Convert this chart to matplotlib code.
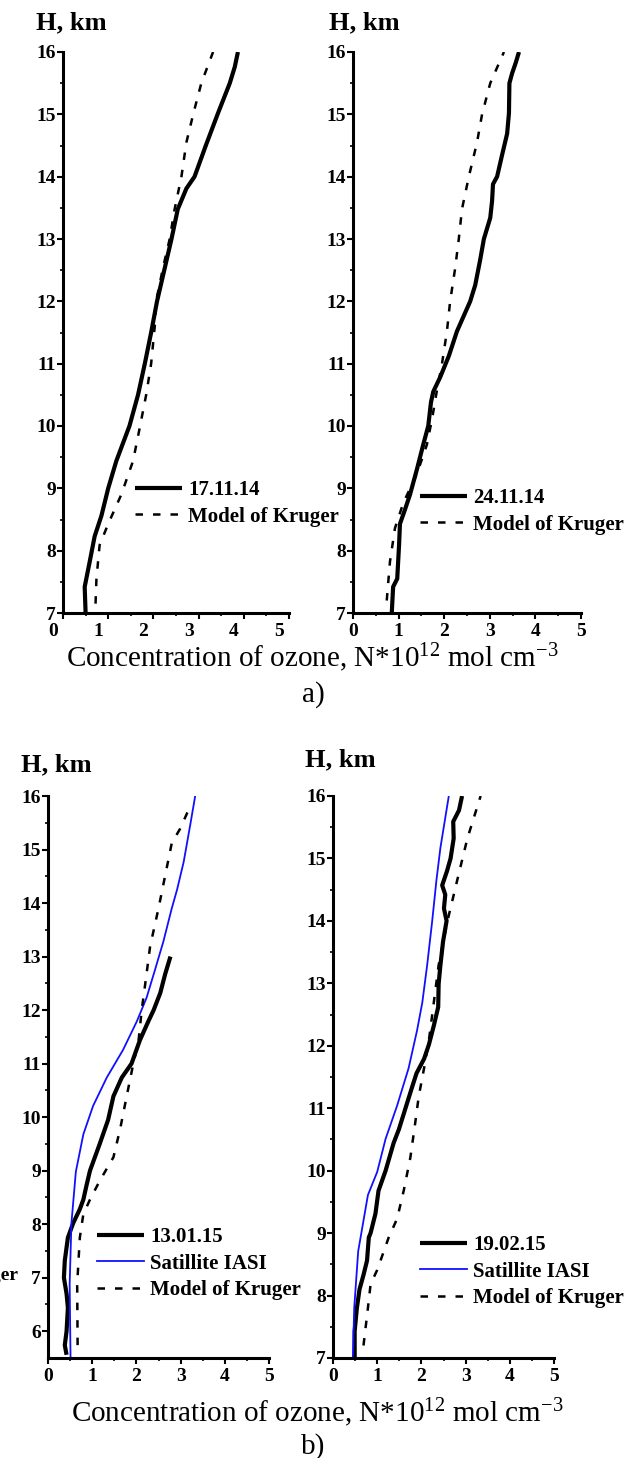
import matplotlib
matplotlib.use("Agg")
import matplotlib.pyplot as plt
import matplotlib.transforms as mtransforms
import numpy as np

plt.rcParams["font.family"] = ["Liberation Serif", "DejaVu Serif"]
plt.rcParams["mathtext.fontset"] = "custom"
plt.rcParams["mathtext.rm"] = "Liberation Serif"
plt.rcParams["mathtext.it"] = "Liberation Serif:italic"
plt.rcParams["mathtext.bf"] = "Liberation Serif:bold"

W, H = 630, 1458

# ---- a) 17.11.14 ----
h_a1 = [7.0, 7.42, 7.82, 8.23, 8.56, 9.0, 9.44, 10.0, 10.5, 11.0, 11.5, 12.0,
        12.53, 13.0, 13.48, 13.81, 14.0, 14.52, 15.02, 15.5, 15.76, 16.0]
c_a1 = [0.50, 0.48, 0.59, 0.70, 0.85, 1.0, 1.18, 1.47, 1.66, 1.81, 1.95, 2.08,
        2.25, 2.40, 2.54, 2.73, 2.91, 3.17, 3.43, 3.69, 3.80, 3.87]
hk_a1 = [7.15, 7.55, 8.09, 8.43, 8.9, 9.44, 9.98, 10.5, 11.0, 11.6, 12.0, 12.53,
         13.0, 13.48, 14.0, 14.55, 15.0, 15.5, 16.0]
ck_a1 = [0.72, 0.74, 0.81, 1.0, 1.29, 1.55, 1.70, 1.84, 1.95, 2.03, 2.06, 2.21,
         2.36, 2.47, 2.62, 2.73, 2.88, 3.06, 3.32]

# ---- a) 24.11.14 ----
h_a2 = [7.0, 7.42, 7.55, 8.09, 8.43, 8.66, 8.9, 9.3, 9.7, 10.0, 10.38, 10.55,
        10.78, 11.12, 11.52, 12.0, 12.26, 12.67, 13.0, 13.34, 13.61, 13.88,
        14.0, 14.35, 14.69, 15.02, 15.5, 15.66, 15.83, 16.0]
c_a2 = [0.85, 0.88, 0.97, 1.01, 1.03, 1.14, 1.25, 1.40, 1.54, 1.65, 1.71, 1.76,
        1.91, 2.10, 2.28, 2.57, 2.68, 2.79, 2.87, 3.01, 3.05, 3.07,
        3.16, 3.27, 3.38, 3.42, 3.43, 3.49, 3.57, 3.64]
hk_a2 = [7.2, 7.82, 8.36, 8.76, 9.23, 9.7, 10.1, 10.57, 10.99, 11.52, 12.0,
         12.53, 13.0, 13.48, 14.0, 14.55, 15.0, 15.5, 16.0]
ck_a2 = [0.74, 0.81, 0.92, 1.10, 1.40, 1.62, 1.73, 1.84, 1.95, 2.06, 2.13,
         2.24, 2.32, 2.39, 2.54, 2.72, 2.83, 3.01, 3.31]

# ---- b) 13.01.15 ----
h_b1 = [5.56, 5.74, 6.0, 6.44, 6.7, 7.0, 7.32, 7.75, 8.02, 8.28, 8.46, 8.72,
        9.0, 9.5, 9.95, 10.39, 10.74, 11.0, 11.44, 11.79, 12.0, 12.32, 12.67, 13.0]
c_b1 = [0.42, 0.38, 0.42, 0.45, 0.42, 0.36, 0.38, 0.45, 0.57, 0.72, 0.80, 0.87,
        0.95, 1.17, 1.36, 1.48, 1.67, 1.89, 2.08, 2.27, 2.39, 2.54, 2.65, 2.77]
hs_b1 = [5.5, 6.88, 8.02, 8.98, 9.68, 10.21, 10.74, 11.26, 11.79, 12.23, 12.75,
         13.28, 13.9, 14.25, 14.77, 15.47, 16.0]
cs_b1 = [0.51, 0.49, 0.53, 0.63, 0.80, 1.02, 1.33, 1.70, 2.01, 2.23, 2.42,
         2.61, 2.80, 2.92, 3.07, 3.22, 3.33]
hk_b1 = [5.74, 6.88, 7.75, 8.19, 8.46, 8.81, 9.25, 9.77, 10.39, 11.0, 11.44,
         12.0, 12.49, 13.19, 13.9, 14.51, 15.12, 15.39, 15.74]
ck_b1 = [0.67, 0.66, 0.72, 0.80, 0.95, 1.17, 1.48, 1.63, 1.78, 1.93, 2.05,
         2.12, 2.20, 2.31, 2.50, 2.65, 2.80, 2.99, 3.18]

# ---- b) 19.02.15 ----
h_b2 = [7.0, 7.43, 7.8, 8.1, 8.33, 8.56, 8.93, 9.0, 9.31, 9.68, 10.0, 10.44,
        10.66, 11.0, 11.34, 11.56, 11.79, 12.02, 12.32, 12.62, 12.99, 13.29,
        13.67, 14.0, 14.2, 14.42, 14.57, 14.8, 15.0, 15.32, 15.59, 15.77, 16.0]
c_b2 = [0.49, 0.49, 0.54, 0.60, 0.69, 0.77, 0.81, 0.85, 0.96, 1.03, 1.19, 1.37,
        1.49, 1.64, 1.79, 1.89, 2.06, 2.17, 2.28, 2.38, 2.39, 2.43,
        2.49, 2.57, 2.51, 2.54, 2.47, 2.58, 2.66, 2.73, 2.72, 2.85, 2.92]
hs_b2 = [7.0, 7.8, 8.71, 9.61, 9.98, 10.51, 11.04, 11.64, 12.24, 12.69, 13.29,
         13.97, 14.65, 15.17, 16.0]
cs_b2 = [0.45, 0.48, 0.57, 0.79, 1.00, 1.19, 1.45, 1.71, 1.90, 2.02, 2.13,
         2.24, 2.34, 2.43, 2.62]
hk_b2 = [7.2, 7.8, 8.18, 8.41, 8.93, 9.23, 9.68, 10.21, 10.66, 11.19, 11.64,
         12.09, 12.69, 13.29, 13.97, 14.65, 15.32, 16.0]
ck_b2 = [0.69, 0.79, 0.85, 1.00, 1.26, 1.45, 1.60, 1.75, 1.84, 1.94, 2.06,
         2.17, 2.28, 2.39, 2.58, 2.81, 3.04, 3.34]

x_ticks = [0, 1, 2, 3, 4, 5]
xlabel = r"Concentration of ozone, N*10$^{12}$ mol cm$^{-3}$"

fig = plt.figure(figsize=(W / 100, H / 100), dpi=100)


def px_axes(left, right, top, bottom):
    return fig.add_axes([left / W, 1 - bottom / H, (right - left) / W, (bottom - top) / H])


def style(ax, ymin):
    ax.set_xlim(0, 5)
    ax.set_ylim(ymin, 16)
    ax.set_xticks(x_ticks)
    ax.set_xticks(np.arange(0.5, 5, 1), minor=True)
    ax.set_yticks(np.arange(int(np.ceil(ymin)), 17))
    ax.set_yticks(np.arange(int(np.ceil(ymin)) + 0.5, 16, 1), minor=True)
    for s in ["top", "right"]:
        ax.spines[s].set_visible(False)
    for s in ["left", "bottom"]:
        ax.spines[s].set_linewidth(2.2)
    ax.tick_params(which="major", direction="out", length=4, width=1.5, pad=1,
                   labelsize=14)
    ax.tick_params(axis="x", which="major", pad=3)
    ax.tick_params(which="minor", direction="out", length=2.5, width=1.2)
    for lab in ax.get_xticklabels() + ax.get_yticklabels():
        lab.set_fontweight("bold")
    ax.set_facecolor("none")


def legend(ax, x, y):
    ax.legend(loc="upper left", bbox_to_anchor=(x / W, 1 - y / H),
              bbox_transform=fig.transFigure, frameon=False, borderpad=0,
              borderaxespad=0, handlelength=2.25, handletextpad=0.3,
              labelspacing=0.32, prop={"weight": "bold", "size": 15})


solid = dict(color="black", lw=3.0, solid_joinstyle="round", solid_capstyle="butt")
dash = dict(color="black", lw=1.8, linestyle=(0, (3, 4)))
blue = dict(color="#1010ff", lw=1.3)

# a) left
ax1 = px_axes(63, 289, 52, 613)
ax1.plot(c_a1, h_a1, label="17.11.14", **solid)
ax1.plot(ck_a1, hk_a1, label="Model of Kruger", **dash)
style(ax1, 7)
shift = mtransforms.ScaledTranslation(-10 / 100, 0, fig.dpi_scale_trans)
for lab in ax1.get_xticklabels():
    lab.set_transform(lab.get_transform() + shift)
legend(ax1, 135, 480)

# a) right
ax2 = px_axes(353, 581, 52, 613)
ax2.plot(c_a2, h_a2, label="24.11.14", **solid)
ax2.plot(ck_a2, hk_a2, label="Model of Kruger", **dash)
style(ax2, 7)
legend(ax2, 420, 488)

# b) left
ax3 = px_axes(48, 269, 796, 1358)
ax3.plot(c_b1, h_b1, label="13.01.15", **solid)
ax3.plot(cs_b1, hs_b1, label="Satillite IASI", **blue)
ax3.plot(ck_b1, hk_b1, label="Model of Kruger", **dash)
style(ax3, 5.5)
legend(ax3, 97, 1227)

# b) right
ax4 = px_axes(333, 554, 796, 1358)
ax4.plot(c_b2, h_b2, label="19.02.15", **solid)
ax4.plot(cs_b2, hs_b2, label="Satillite IASI", **blue)
ax4.plot(ck_b2, hk_b2, label="Model of Kruger", **dash)
style(ax4, 7)
legend(ax4, 420, 1235)

# texts
for x, y in [(36, 23), (329, 23), (21, 765), (305, 760)]:
    fig.text(x / W, 1 - y / H, "H, km", fontsize=19, fontweight="bold",
             ha="left", va="center")
fig.text(312 / W, 1 - 658 / H, xlabel, fontsize=21, ha="center", va="center")
fig.text(313 / W, 1 - 695 / H, "a)", fontsize=21, ha="center", va="center")
fig.text(317 / W, 1 - 1413 / H, xlabel, fontsize=21, ha="center", va="center")
fig.text(313 / W, 1 - 1447 / H, "b)", fontsize=21, ha="center", va="center")
# clipped legend text spilling in from the left edge
fig.text(19 / W, 1 - 1275 / H, "Kruger", fontsize=14, fontweight="bold",
         ha="right", va="center")

fig.savefig("out.png", dpi=100)
